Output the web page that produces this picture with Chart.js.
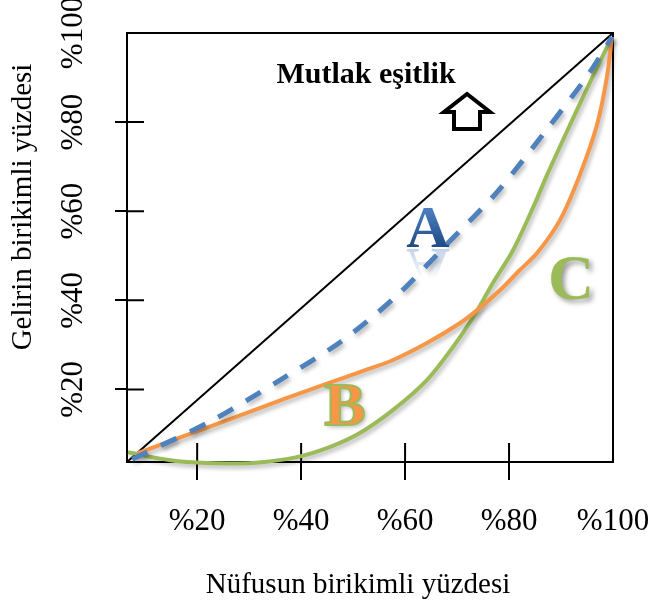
<!DOCTYPE html>
<html>
<head>
<meta charset="utf-8">
<script src="https://cdn.jsdelivr.net/npm/chart.js@4.4.0/dist/chart.umd.min.js"></script>
<style>
  html, body { margin: 0; padding: 0; background: #fff; }
  canvas { display: block; }
</style>
</head>
<body>
<canvas id="lorenz" width="653" height="610"></canvas>
<script>
// ticks (same on both axes)
const tickValues = [20, 40, 60, 80, 100];
const tickLabels = ['%20', '%40', '%60', '%80', '%100'];

// perfect equality line, corner to corner
const equalX = [6.5, 100];
const equalY = [3.7, 100];

// curve A (dashed blue)
const curveAx = [7.5, 23.0, 35.4, 47.5, 58.1, 68.3, 77.7, 86.9, 95.2, 99.8];
const curveAy = [4.3, 13.1, 21.7, 30.6, 40.7, 52.9, 64.3, 77.8, 90.6, 99.1];

// curve B (orange)
const curveBx = [8.6, 24.4, 37.3, 51.3, 57.7, 64.2, 70.6, 74.4, 78.3, 82.1, 85.4, 89.8, 93.6, 96.9, 98.8, 99.8];
const curveBy = [5.7, 12.5, 18.1, 23.9, 26.6, 30.4, 34.9, 38.3, 42.3, 46.8, 50.6, 58.0, 68.1, 79.3, 89.9, 99.1];

// curve C (green)
const curveCx = [6.7, 14.8, 21.9, 30.7, 39.2, 45.6, 51.3, 57.7, 64.2, 69.2, 73.1, 76.9, 80.8, 85.0, 87.3, 91.7, 95.6, 99.8];
const curveCy = [5.9, 4.1, 3.5, 3.5, 4.8, 7.1, 10.2, 15.4, 22.1, 29.5, 36.2, 43.9, 51.3, 61.8, 68.1, 79.3, 89.0, 99.1];

const toPoints = (xs, ys) => xs.map((x, i) => ({ x: x, y: ys[i] }));
const serif = 'Liberation Serif';

// no tick mark at 100, the frame edge is there
const tickColor = c => (c.tick && c.tick.value === 100) ? 'rgba(0,0,0,0)' : '#000';

// frame + the part of each tick that crosses into the plot
const frame = {
  id: 'frame',
  beforeDatasetsDraw(chart) {
    const { ctx, chartArea: a, scales: { x, y } } = chart;
    ctx.save();
    ctx.strokeStyle = '#000';
    ctx.lineWidth = 2;
    ctx.strokeRect(a.left, a.top, a.width, a.height);
    ctx.beginPath();
    tickValues.forEach(v => {
      if (v === 100) return;
      const px = x.getPixelForValue(v);
      ctx.moveTo(px, a.bottom);
      ctx.lineTo(px, a.bottom - 19);
      const py = y.getPixelForValue(v);
      ctx.moveTo(a.left, py);
      ctx.lineTo(a.left + 17, py);
    });
    ctx.stroke();
    ctx.restore();
  }
};

// soft shadow under the three curves
const curveShadow = {
  id: 'curveShadow',
  beforeDatasetDraw(chart, args) {
    const ctx = chart.ctx;
    ctx.save();
    if (args.index < 3) {
      ctx.shadowColor = 'rgba(0,0,0,0.28)';
      ctx.shadowBlur = 4;
      ctx.shadowOffsetX = 2;
      ctx.shadowOffsetY = 3;
    }
  },
  afterDatasetDraw(chart) {
    chart.ctx.restore();
  }
};

// axis titles, letters, "Mutlak eşitlik" and the arrow
const notes = {
  id: 'notes',
  afterDraw(chart) {
    const ctx = chart.ctx;
    ctx.save();
    ctx.fillStyle = '#000';
    ctx.textAlign = 'center';
    ctx.textBaseline = 'middle';
    ctx.font = '29px "' + serif + '"';

    // x axis title (sits a little left of the plot centre)
    ctx.fillText('Nüfusun birikimli yüzdesi', 358, 585);

    // y axis title
    ctx.save();
    ctx.translate(23, 207);
    ctx.rotate(-Math.PI / 2);
    ctx.fillText('Gelirin birikimli yüzdesi', 0, 0);
    ctx.restore();

    ctx.textBaseline = 'alphabetic';

    // Mutlak eşitlik
    ctx.font = 'bold 30px "' + serif + '"';
    ctx.fillText('Mutlak eşitlik', 366, 83);

    // hollow up arrow
    ctx.beginPath();
    ctx.moveTo(467, 94);
    ctx.lineTo(444, 112);
    ctx.lineTo(454, 112);
    ctx.lineTo(454, 129);
    ctx.lineTo(480, 129);
    ctx.lineTo(480, 112);
    ctx.lineTo(490, 112);
    ctx.closePath();
    ctx.fillStyle = '#fff';
    ctx.fill();
    ctx.lineWidth = 4;
    ctx.lineJoin = 'miter';
    ctx.strokeStyle = '#000';
    ctx.stroke();

    // A with a faint fading reflection
    ctx.font = 'bold 60px "' + serif + '"';
    ctx.save();
    ctx.translate(428, 249);
    ctx.scale(1, -1);
    const gR = ctx.createLinearGradient(0, 0, 0, -30);
    gR.addColorStop(0, 'rgba(58,109,176,0.3)');
    gR.addColorStop(1, 'rgba(58,109,176,0)');
    ctx.fillStyle = gR;
    ctx.fillText('A', 0, 0);
    ctx.restore();
    const gA = ctx.createLinearGradient(0, 205, 0, 247);
    gA.addColorStop(0, '#5283c4');
    gA.addColorStop(1, '#1f4b86');
    ctx.fillStyle = gA;
    ctx.fillText('A', 428, 247);

    // B orange with green edge
    ctx.font = 'bold 62px "' + serif + '"';
    ctx.save();
    ctx.shadowColor = 'rgba(0,0,0,0.3)';
    ctx.shadowBlur = 4;
    ctx.shadowOffsetX = 2;
    ctx.shadowOffsetY = 2;
    ctx.fillStyle = '#f79646';
    ctx.fillText('B', 345, 425);
    ctx.restore();
    ctx.lineWidth = 2;
    ctx.strokeStyle = '#9bbb59';
    ctx.strokeText('B', 345, 425);

    // C green with shadow
    ctx.save();
    ctx.shadowColor = 'rgba(0,0,0,0.4)';
    ctx.shadowBlur = 5;
    ctx.shadowOffsetX = 3;
    ctx.shadowOffsetY = 3;
    ctx.font = 'bold 64px "' + serif + '"';
    ctx.fillStyle = '#9bbb59';
    ctx.fillText('C', 571, 299);
    ctx.restore();

    ctx.restore();
  }
};

const data = {
  datasets: [
    {
      label: 'A',
      data: toPoints(curveAx, curveAy),
      borderColor: '#4f81bd',
      borderWidth: 5,
      borderDash: [17, 15],
      tension: 0.3,
      pointRadius: 0,
      clip: false
    },
    {
      label: 'B',
      data: toPoints(curveBx, curveBy),
      borderColor: '#f79646',
      borderWidth: 4,
      tension: 0.3,
      pointRadius: 0,
      clip: false
    },
    {
      label: 'C',
      data: toPoints(curveCx, curveCy),
      borderColor: '#9bbb59',
      borderWidth: 4,
      tension: 0.3,
      capBezierPoints: false,
      pointRadius: 0,
      clip: false
    },
    {
      label: 'Mutlak eşitlik',
      data: toPoints(equalX, equalY),
      borderColor: '#000',
      borderWidth: 2,
      pointRadius: 0,
      clip: false
    }
  ]
};

const config = {
  type: 'line',
  data,
  options: {
    responsive: false,
    animation: false,
    events: [],
    layout: { padding: { top: 33, right: 40, left: 0, bottom: 0 } },
    plugins: {
      legend: { display: false },
      tooltip: { enabled: false }
    },
    scales: {
      x: {
        type: 'linear',
        min: 6.5,
        max: 100,
        afterBuildTicks: s => { s.ticks = tickValues.map(v => ({ value: v })); },
        afterFit: s => { s.height = 148; s.paddingLeft = 0; s.paddingRight = 0; },
        border: { display: true, color: '#000', width: 2 },
        grid: { drawOnChartArea: false, drawTicks: true, tickLength: 18, color: tickColor, lineWidth: 2 },
        ticks: {
          autoSkip: false,
          maxRotation: 0,
          padding: 23,
          color: '#000',
          font: { family: serif, size: 31 },
          callback: (v, i) => tickLabels[i]
        }
      },
      y: {
        type: 'linear',
        min: 3.7,
        max: 100,
        afterBuildTicks: s => { s.ticks = tickValues.map(v => ({ value: v })); },
        afterFit: s => { s.width = 127; s.paddingTop = 0; s.paddingBottom = 0; },
        border: { display: true, color: '#000', width: 2 },
        grid: { drawOnChartArea: false, drawTicks: true, tickLength: 12, color: tickColor, lineWidth: 2 },
        ticks: {
          autoSkip: false,
          minRotation: 90,
          maxRotation: 90,
          crossAlign: 'center',
          padding: 5,
          color: '#000',
          font: { family: serif, size: 31 },
          callback: (v, i) => tickLabels[i]
        }
      }
    }
  },
  plugins: [frame, curveShadow, notes]
};

const lorenzChart = new Chart(document.getElementById('lorenz'), config);
</script>
</body>
</html>
